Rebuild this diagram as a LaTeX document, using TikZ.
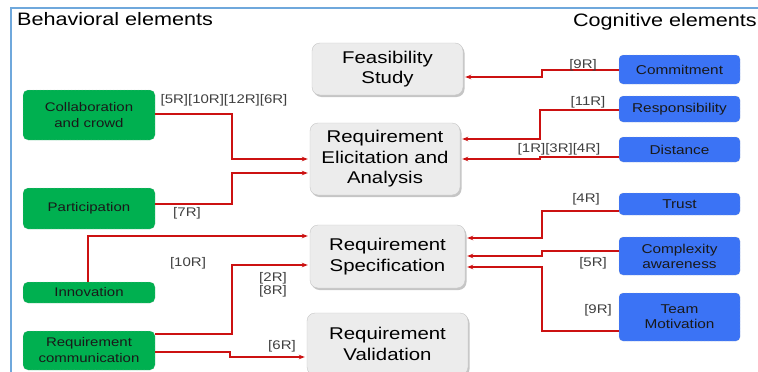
\documentclass[tikz,border=0pt]{standalone}
\usepackage{fontspec}
\setmainfont{Liberation Sans}[FakeStretch=1.2]
\usetikzlibrary{arrows.meta,shadows}
\definecolor{frameblue}{HTML}{6FA8DC}
\definecolor{boxgreen}{HTML}{00B050}
\definecolor{boxblue}{HTML}{3B73F5}
\definecolor{boxgray}{HTML}{ECECEC}
\definecolor{linered}{HTML}{CC1111}
\definecolor{labgray}{HTML}{404040}
\tikzset{
  phase/.style={draw=gray!45, fill=boxgray, rounded corners=8pt, align=center,
    inner sep=0pt, font=\fontsize{17}{20.5}\selectfont, text=black,
    drop shadow={shadow xshift=1.5pt, shadow yshift=-2pt, opacity=0.45, fill=gray}},
  behav/.style={draw=gray!50, densely dotted, fill=boxgreen, rounded corners=5pt, align=center,
    inner sep=0pt, minimum width=132pt, font=\fontsize{12.5}{16}\selectfont, text=black!90},
  cogn/.style={draw=gray!60, densely dotted, fill=boxblue, rounded corners=4pt, align=center,
    inner sep=0pt, minimum width=121pt, font=\fontsize{12.8}{15}\selectfont, text=black!90},
  conn/.style={draw=linered, line width=1.5pt, shorten >=2pt,
    -{Stealth[length=6pt,width=4.5pt]}},
  lab/.style={font=\fontsize{12.5}{13}\selectfont, text=labgray, inner sep=0pt, align=center},
  heading/.style={font=\fontsize{18}{20}\selectfont, text=black, inner sep=0pt}
}
\begin{document}
\begin{tikzpicture}[x=1pt,y=-1pt]
\useasboundingbox (0,0) rectangle (758,372);
\fill[white] (0,0) rectangle (758,372);
\draw[frameblue, line width=1.2pt] (11,380) -- (11,8) -- (765,8);

\node[heading, anchor=base west] (hbeh) at (17,25) {Behavioral elements};
\node[heading, anchor=base east] (hcog) at (757,27) {Cognitive elements};

% phases
\node[phase, minimum width=151pt, minimum height=52pt] (feas) at (387.5,69) {Feasibility\\Study};
\node[phase, minimum width=150pt, minimum height=72pt] (elic) at (385,159) {Requirement\\Elicitation and\\Analysis};
\node[phase, minimum width=155pt, minimum height=63pt] (spec) at (387.5,256.5) {Requirement\\Specification};
\node[phase, minimum width=161pt, minimum height=62pt] (val) at (387.5,344) {Requirement\\Validation};

% behavioral
\node[behav, minimum height=50pt] (collab) at (89,115) {Collaboration\\and crowd};
\node[behav, minimum height=41pt] (part) at (89,208.5) {Participation};
\node[behav, minimum height=21pt] (innov) at (89,292.5) {Innovation};
\node[behav, minimum height=39pt] (rc) at (89,350.5) {Requirement\\communication};

% cognitive
\node[cogn, minimum height=29pt] (commit) at (679.5,69.5) {Commitment};
\node[cogn, minimum height=26pt] (resp) at (679.5,109) {Responsibility};
\node[cogn, minimum height=25pt] (dist) at (679.5,149.5) {Distance};
\node[cogn, minimum height=22pt] (trust) at (679.5,204) {Trust};
\node[cogn, minimum height=38pt] (cx) at (679.5,256) {Complexity\\awareness};
\node[cogn, minimum height=48pt] (team) at (679.5,317) {Team\\Motivation};

% connectors right side
\draw[conn] (commit.west |- 0,70) -- (542,70) -- (542,77) -- (feas.east |- 0,77);
\draw[conn] (resp.west |- 0,110) -- (540,110) -- (540,139) -- (elic.east |- 0,139);
\draw[conn] (dist.west |- 0,157) -- (540,157) -- (540,159) -- (elic.east |- 0,159);
\draw[conn] (trust.west |- 0,211) -- (542,211) -- (542,238) -- (spec.east |- 0,238);
\draw[conn] (cx.west |- 0,251) -- (542,251) -- (542,256) -- (spec.east |- 0,256);
\draw[conn] (team.west |- 0,331) -- (542,331) -- (542,267) -- (spec.east |- 0,267);

% connectors left side
\draw[conn] (collab.east |- 0,114) -- (232,114) -- (232,159) -- (elic.west |- 0,159);
\draw[conn] (part.east |- 0,204) -- (232,204) -- (232,173) -- (elic.west |- 0,173);
\draw[conn] (innov.north -| 88,0) -- (88,236) -- (spec.west |- 0,236);
\draw[conn] (rc.east |- 0,334) -- (232,334) -- (232,265) -- (spec.west |- 0,265);
\draw[conn] (rc.east |- 0,352) -- (230,352) -- (230,357) -- (val.west |- 0,357);

% labels
\node[lab] (l1) at (583,65) {[9R]};
\node[lab] (l2) at (588,102) {[11R]};
\node[lab] (l3) at (559,149) {[1R][3R][4R]};
\node[lab] (l4) at (224,100) {[5R][10R][12R][6R]};
\node[lab] (l5) at (187,213) {[7R]};
\node[lab] (l6) at (188,263) {[10R]};
\node[lab] (l7) at (273,285) {[2R]\\{}[8R]};
\node[lab] (l8) at (282,346) {[6R]};
\node[lab] (l9) at (586,199) {[4R]};
\node[lab] (l10) at (593,263) {[5R]};
\node[lab] (l11) at (598,310) {[9R]};
\end{tikzpicture}
\end{document}
